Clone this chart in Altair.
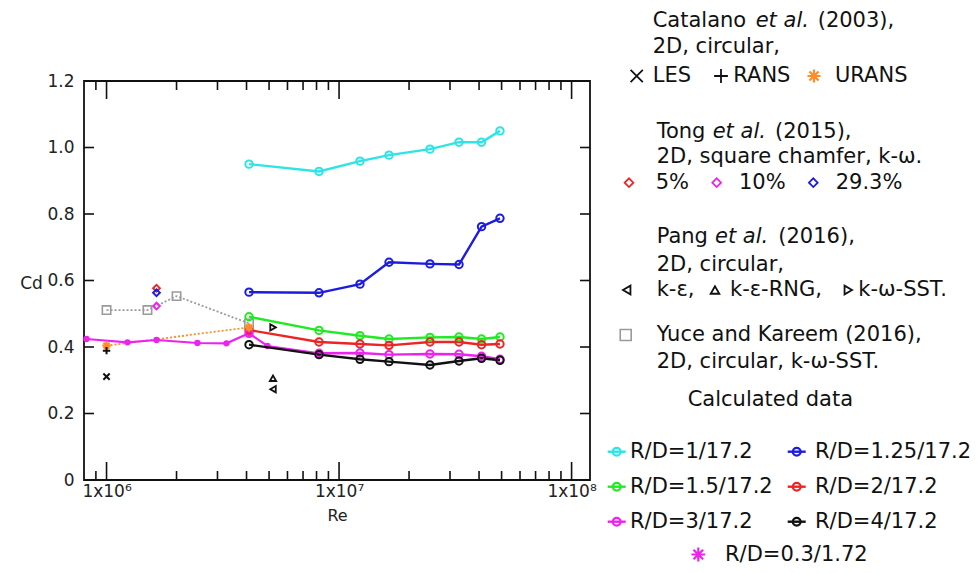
import altair as alt
import pandas as pd

# ---------------- data ----------------
re_calc = [4.1e6, 8.2e6, 1.23e7, 1.64e7, 2.46e7, 3.28e7, 4.1e7, 4.92e7]
cd_r1 = [0.950, 0.928, 0.959, 0.977, 0.995, 1.016, 1.016, 1.050]
cd_r125 = [0.565, 0.563, 0.589, 0.655, 0.650, 0.648, 0.762, 0.787]
cd_r15 = [0.491, 0.450, 0.434, 0.424, 0.429, 0.430, 0.424, 0.430]
cd_r2 = [0.451, 0.415, 0.409, 0.405, 0.415, 0.415, 0.407, 0.409]
cd_r3 = [0.441, 0.381, 0.382, 0.377, 0.379, 0.378, 0.372, 0.363]
cd_r4 = [0.407, 0.377, 0.363, 0.356, 0.346, 0.358, 0.366, 0.360]

series_names = ["R/D=1/17.2", "R/D=1.25/17.2", "R/D=1.5/17.2",
                "R/D=2/17.2", "R/D=3/17.2", "R/D=4/17.2"]
series_colors = ["#2ee4e4", "#1c1ce0", "#22ea22", "#ee2424", "#ee22ee", "#111111"]

re_small = [8.2e5, 1.23e6, 1.64e6, 2.46e6, 3.28e6, 4.1e6, 4.92e6, 8.2e6]
cd_small = [0.424, 0.414, 0.421, 0.412, 0.411, 0.441, 0.403, 0.381]

re_tong = [1.64e6, 1.64e6, 1.64e6]
cd_tong = [0.577, 0.523, 0.563]
tong_labels = ["5%", "10%", "29.3%"]
tong_colors = ["#ee2424", "#ee22ee", "#1c1ce0"]

re_les = [1.0e6]
cd_les = [0.311]
re_rans = [1.0e6]
cd_rans = [0.389]
re_urans = [1.0e6, 4.1e6]
cd_urans = [0.404, 0.459]

re_pang = [5.2e6]
cd_pang_ke = [0.273]
cd_pang_rng = [0.306]
cd_pang_sst = [0.459]

re_yuce = [1.0e6, 1.5e6, 2.0e6, 4.1e6]
cd_yuce = [0.511, 0.511, 0.553, 0.471]

x_major = [1e6, 1e7, 1e8]
x_minor = [9e5, 2e6, 3e6, 4e6, 5e6, 6e6, 7e6, 8e6, 9e6,
           2e7, 3e7, 4e7, 5e7, 6e7, 7e7, 8e7, 9e7]
y_ticks = [0.0, 0.2, 0.4, 0.6, 0.8, 1.0, 1.2]

# ---------------- layout ----------------
W, H = 506, 399
OX, OY = 84, 81          # page position of the plot origin
FONT = "DejaVu Sans"

calc_rows = []
for name, vals in zip(series_names, [cd_r1, cd_r125, cd_r15, cd_r2, cd_r3, cd_r4]):
    for r, c in zip(re_calc, vals):
        calc_rows.append({"Re": r, "Cd": c, "series": name})
calc_df = pd.DataFrame(calc_rows)
line_df = calc_df[~((calc_df.series == "R/D=3/17.2") & (calc_df.Re == re_calc[0]))]

small_df = pd.DataFrame({"Re": re_small, "Cd": cd_small})
yuce_df = pd.DataFrame({"Re": re_yuce, "Cd": cd_yuce})
urans_df = pd.DataFrame({"Re": re_urans, "Cd": cd_urans})
les_df = pd.DataFrame({"Re": re_les, "Cd": cd_les})
rans_df = pd.DataFrame({"Re": re_rans, "Cd": cd_rans})
pke_df = pd.DataFrame({"Re": re_pang, "Cd": cd_pang_ke})
prng_df = pd.DataFrame({"Re": re_pang, "Cd": cd_pang_rng})
psst_df = pd.DataFrame({"Re": re_pang, "Cd": cd_pang_sst})
xmaj_df = pd.DataFrame({"Re": x_major})
xmin_df = pd.DataFrame({"Re": x_minor})
ytk_df = pd.DataFrame({"Cd": y_ticks})
dummy = pd.DataFrame({"d": [0]})

xscale = alt.Scale(type="log", domain=[8e5, 1.2e8], nice=False)
yscale = alt.Scale(domain=[0, 1.2], nice=False, zero=False)

x_label_expr = ("'1x10' + (datum.value < 5e6 ? '⁶' : (datum.value < 5e7 ? '⁷' : '⁸'))")

X = alt.X("Re:Q", scale=xscale,
          axis=alt.Axis(values=x_major, labelExpr=x_label_expr, title="Re",
                        labelPadding=3, titleX=253, titleY=35, titleFontSize=16,
                        titleAnchor=None, titleBaseline="middle"))
Y = alt.Y("Cd:Q", scale=yscale,
          axis=alt.Axis(values=y_ticks,
                        labelExpr="datum.value == 0 ? '0' : format(datum.value, '.1f')",
                        title="Cd", titleAngle=0, titleX=-53, titleY=202,
                        titleAlign="center", titleBaseline="middle", labelPadding=10))
Xn = alt.X("Re:Q", scale=xscale)
Yn = alt.Y("Cd:Q", scale=yscale)

color_enc = alt.Color("series:N", scale=alt.Scale(domain=series_names, range=series_colors),
                      legend=None)

# ticks drawn inward
major_bot = alt.Chart(xmaj_df).mark_rule(color="#111", strokeWidth=1.6).encode(
    x=X, y=alt.value(H), y2=alt.value(H - 18))
major_top = alt.Chart(xmaj_df).mark_rule(color="#111", strokeWidth=1.6).encode(
    x=Xn, y=alt.value(0), y2=alt.value(18))
minor_bot = alt.Chart(xmin_df).mark_rule(color="#111", strokeWidth=1.6).encode(
    x=Xn, y=alt.value(H), y2=alt.value(H - 9))
minor_top = alt.Chart(xmin_df).mark_rule(color="#111", strokeWidth=1.6).encode(
    x=Xn, y=alt.value(0), y2=alt.value(9))
ytick_l = alt.Chart(ytk_df).mark_rule(color="#111", strokeWidth=1.6).encode(
    y=Y, x=alt.value(0), x2=alt.value(10))
ytick_r = alt.Chart(ytk_df).mark_rule(color="#111", strokeWidth=1.6).encode(
    y=Yn, x=alt.value(W - 10), x2=alt.value(W))

star_path = "M-1,0L1,0M0,-1L0,1M-0.7,-0.7L0.7,0.7M-0.7,0.7L0.7,-0.7"
cross_path = "M-1,-1L1,1M-1,1L1,-1"
plus_path = "M-1,0L1,0M0,-1L0,1"

# data layers
yuce_line = alt.Chart(yuce_df).mark_line(color="#9a9a9a", strokeWidth=1.8, strokeDash=[2, 2]).encode(x=Xn, y=Yn)
yuce_pts = alt.Chart(yuce_df).mark_point(shape="square", filled=False, color="#9a9a9a",
                                         size=70, strokeWidth=1.6, opacity=1).encode(x=Xn, y=Yn)
urans_line = alt.Chart(urans_df).mark_line(color="#ff8c28", strokeWidth=1.8, strokeDash=[2, 2]).encode(x=Xn, y=Yn)
urans_pts = alt.Chart(urans_df).mark_point(shape=star_path, filled=False, color="#ff8c28",
                                           size=70, strokeWidth=2.2, opacity=1).encode(x=Xn, y=Yn)
les_pts = alt.Chart(les_df).mark_point(shape=cross_path, filled=False, color="#111",
                                       size=40, strokeWidth=2, opacity=1).encode(x=Xn, y=Yn)
rans_pts = alt.Chart(rans_df).mark_point(shape=plus_path, filled=False, color="#111",
                                         size=55, strokeWidth=2, opacity=1).encode(x=Xn, y=Yn)

small_line = alt.Chart(small_df).mark_line(color="#ee22ee", strokeWidth=2.2).encode(x=Xn, y=Yn)
small_pts = alt.Chart(small_df).mark_circle(color="#ee22ee", size=40, opacity=1).encode(x=Xn, y=Yn)

calc_lines = alt.Chart(line_df).mark_line(strokeWidth=2.4).encode(
    x=Xn, y=Yn, color=color_enc, detail="series:N")
calc_pts = alt.Chart(calc_df).mark_point(shape="circle", filled=False, size=55,
                                         strokeWidth=2, opacity=1).encode(
    x=Xn, y=Yn, color=color_enc)

tong_layers = []
for r, c, col in zip(re_tong, cd_tong, tong_colors):
    tong_layers.append(
        alt.Chart(pd.DataFrame({"Re": [r], "Cd": [c]})).mark_point(
            shape="diamond", filled=False, size=45, strokeWidth=2, color=col, opacity=1
        ).encode(x=Xn, y=Yn))

pke = alt.Chart(pke_df).mark_point(shape="triangle-left", filled=False, color="#111", size=40,
                                   strokeWidth=1.8, opacity=1).encode(x=Xn, y=Yn)
prng = alt.Chart(prng_df).mark_point(shape="triangle-up", filled=False, color="#111", size=40,
                                     strokeWidth=1.8, opacity=1).encode(x=Xn, y=Yn)
psst = alt.Chart(psst_df).mark_point(shape="triangle-right", filled=False, color="#111", size=40,
                                     strokeWidth=1.8, opacity=1).encode(x=Xn, y=Yn)


# ---------------- legend (drawn as text / symbols at the right) ----------------
def text(s, x, y, size=21, italic=False, align="left", color="#111"):
    return alt.Chart(dummy).mark_text(
        align=align, baseline="middle", font=FONT, fontSize=size,
        fontStyle="italic" if italic else "normal", color=color
    ).encode(x=alt.value(x - OX), y=alt.value(y - OY), text=alt.value(s))


def sym(shape, x, y, color, size=60, filled=False, sw=1.8):
    return alt.Chart(dummy).mark_point(
        shape=shape, filled=filled, size=size, strokeWidth=sw, color=color, opacity=1
    ).encode(x=alt.value(x - OX), y=alt.value(y - OY))


def seg(x1, x2, y, color, sw=2.4):
    return alt.Chart(dummy).mark_rule(color=color, strokeWidth=sw).encode(
        x=alt.value(x1 - OX), x2=alt.value(x2 - OX), y=alt.value(y - OY))


leg = []
# Catalano
leg += [text("Catalano", 652.7, 20.7), text("et al.", 755.7, 20.7, italic=True),
        text("(2003),", 817.7, 20.7), text("2D, circular,", 652.7, 46.7),
        sym(cross_path, 636.7, 76, "#111", size=150, sw=1.8), text("LES", 652.7, 76),
        sym(plus_path, 721, 76, "#111", size=190, sw=1.8), text("RANS", 733.3, 76),
        sym(star_path, 814, 76, "#ff8c28", size=170, sw=2.2), text("URANS", 835, 76)]
# Tong
leg += [text("Tong", 656.7, 131.7), text("et al.", 712.7, 131.7, italic=True),
        text("(2015),", 775, 131.7), text("2D, square chamfer, k-ω.", 656.7, 156.7)]
for lbl, col, xs, xt in zip(tong_labels, tong_colors, [629, 716.7, 813.3], [655.7, 739, 835.7]):
    leg += [sym("diamond", xs, 182.7, col, size=75, sw=1.8), text(lbl, xt, 182.7)]
# Pang
leg += [text("Pang", 656.7, 236.7), text("et al.", 715, 236.7, italic=True),
        text("(2016),", 778.3, 236.7), text("2D, circular,", 656.7, 265),
        sym("triangle-left", 626.7, 290, "#111", size=75), text("k-ε,", 656.7, 290),
        sym("triangle-up", 715, 290, "#111", size=75), text("k-ε-RNG,", 730, 290),
        sym("triangle-right", 848.3, 290, "#111", size=75), text("k-ω-SST.", 858.3, 290)]
# Yuce
leg += [sym("square", 625.7, 335, "#9a9a9a", size=120, sw=1.6),
        text("Yuce and Kareem (2016),", 656.7, 335),
        text("2D, circular, k-ω-SST.", 656.7, 361.7)]
# Calculated
leg += [text("Calculated data", 687.7, 400)]
rows_y = [451.7, 486.7, 521.7]
for i, (name, col) in enumerate(zip(series_names, series_colors)):
    yy = rows_y[i // 2]
    xs = 616.7 if i % 2 == 0 else 796.7
    xt = 630 if i % 2 == 0 else 815
    leg += [seg(xs - 9, xs + 9, yy, col), sym("circle", xs, yy, col, size=60, sw=2.2),
            text(name, xt, yy)]
leg += [sym(star_path, 698.3, 554.5, "#ee22ee", size=190, sw=2.2),
        text("R/D=0.3/1.72", 725, 554.5)]

layers = [major_bot, major_top, minor_bot, minor_top, ytick_l, ytick_r,
          yuce_line, urans_line, yuce_pts, small_line, small_pts,
          calc_lines, calc_pts] + tong_layers + [urans_pts, les_pts, rans_pts,
          pke, prng, psst] + leg

chart = alt.layer(*layers).properties(
    width=W, height=H,
    autosize=alt.AutoSizeParams(type="none"),
    padding={"left": 76, "top": 73, "right": 380, "bottom": 85},
).configure_view(
    stroke="#111", strokeWidth=1.8
).configure_axis(
    domain=False, ticks=False, grid=False,
    labelFont=FONT, labelFontSize=17, labelColor="#222",
    titleFont=FONT, titleFontSize=17, titleFontWeight="normal", titleColor="#222"
)

chart.save("out.html", embed_options={"renderer": "svg", "actions": False})
